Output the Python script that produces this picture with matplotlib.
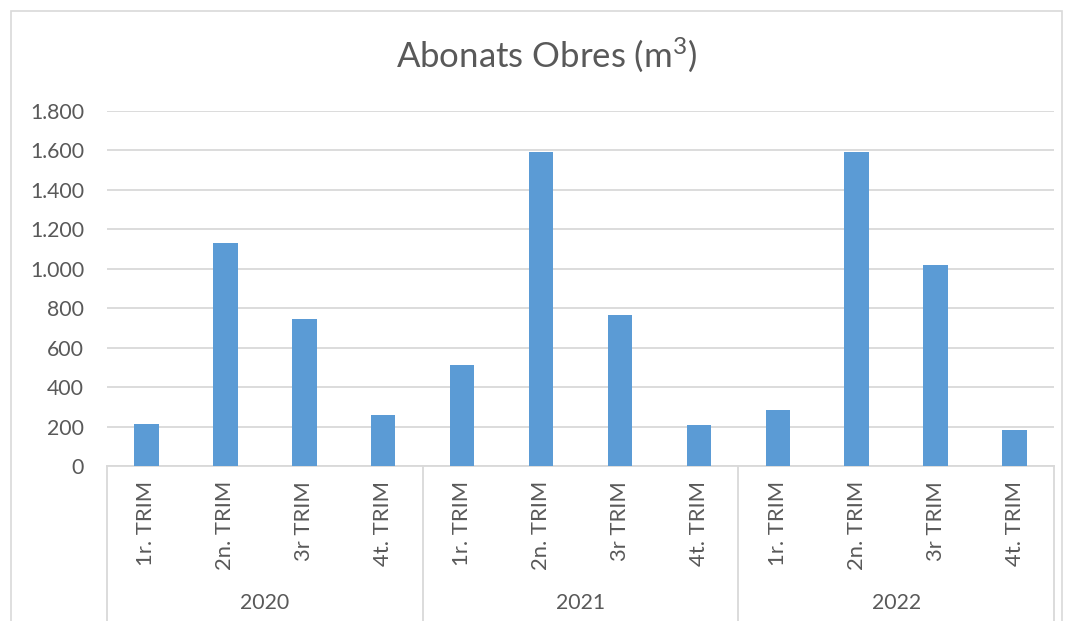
import matplotlib
matplotlib.use("Agg")
import matplotlib.pyplot as plt
from matplotlib.transforms import blended_transform_factory
from matplotlib.ticker import FuncFormatter
from matplotlib.patches import Rectangle

years = ["2020", "2021", "2022"]
quarters = ["1r. TRIM", "2n. TRIM", "3r TRIM", "4t. TRIM"]
values_2020 = [215, 1128, 745, 256]
values_2021 = [510, 1590, 766, 208]
values_2022 = [286, 1589, 1016, 184]
yticks = [0, 200, 400, 600, 800, 1000, 1200, 1400, 1600, 1800]
title = "Abonats Obres (m$^3$)"

plt.rcParams['font.family'] = ['Lato', 'DejaVu Sans']
plt.rcParams['mathtext.fontset'] = 'custom'
plt.rcParams['mathtext.rm'] = 'Lato'
plt.rcParams['mathtext.it'] = 'Lato'
plt.rcParams['mathtext.default'] = 'rm'
W, H = 1071, 621
fig = plt.figure(figsize=(W / 100, H / 100), dpi=100)
text_c = "#595959"
grid_c = "#D9D9D9"
bar_c = "#5B9BD5"

# outer chart border
fig.patches.append(Rectangle((11 / W, -0.05), (1062 - 11) / W, 1.05 - 11 / H,
                             transform=fig.transFigure, fill=False,
                             edgecolor=grid_c, linewidth=1.2))

left, right, bottom, top = 107, 1054, 466, 110.7
ax = fig.add_axes([left / W, 1 - bottom / H, (right - left) / W, (bottom - top) / H])

values = values_2020 + values_2021 + values_2022
xs = list(range(len(values)))
ax.bar(xs, values, width=0.31, color=bar_c, zorder=3)
ax.set_xlim(-0.5, len(values) - 0.5)
ax.set_ylim(0, 1800)
ax.set_yticks(yticks)
ax.yaxis.set_major_formatter(FuncFormatter(lambda v, p: f"{int(v):,}".replace(",", ".")))
ax.tick_params(axis='y', length=0, labelsize=15.3, labelcolor=text_c, pad=16.5)
ax.set_xticks([])
ax.grid(axis='y', color=grid_c, linewidth=1.3, zorder=0)
for s in ["top", "right", "left"]:
    ax.spines[s].set_visible(False)
ax.spines["bottom"].set_color(grid_c)
ax.spines["bottom"].set_linewidth(1.3)

tr = blended_transform_factory(ax.transData, ax.transAxes)
axh = bottom - top
def ay(py):
    return (bottom - py) / axh

# category labels
for i, x in enumerate(xs):
    ax.text(x, ay(481), quarters[i % 4], rotation=90, ha='center', va='top',
            fontsize=15.8, color=text_c, transform=tr)
# year labels and separators
for g, y in enumerate(years):
    ax.text(g * 4 + 1.5, ay(603), y, ha='center', va='center', fontsize=15.3,
            color=text_c, transform=tr)
for sx in [-0.5, 3.5, 7.5, 11.5]:
    ax.plot([sx, sx], [0, ay(625)], color=grid_c, linewidth=1.3,
            transform=tr, clip_on=False)

fig.text(546 / W, 1 - 55 / H, title, ha='center', va='center',
         fontsize=25, color=text_c)

fig.savefig("out.png", dpi=100)
